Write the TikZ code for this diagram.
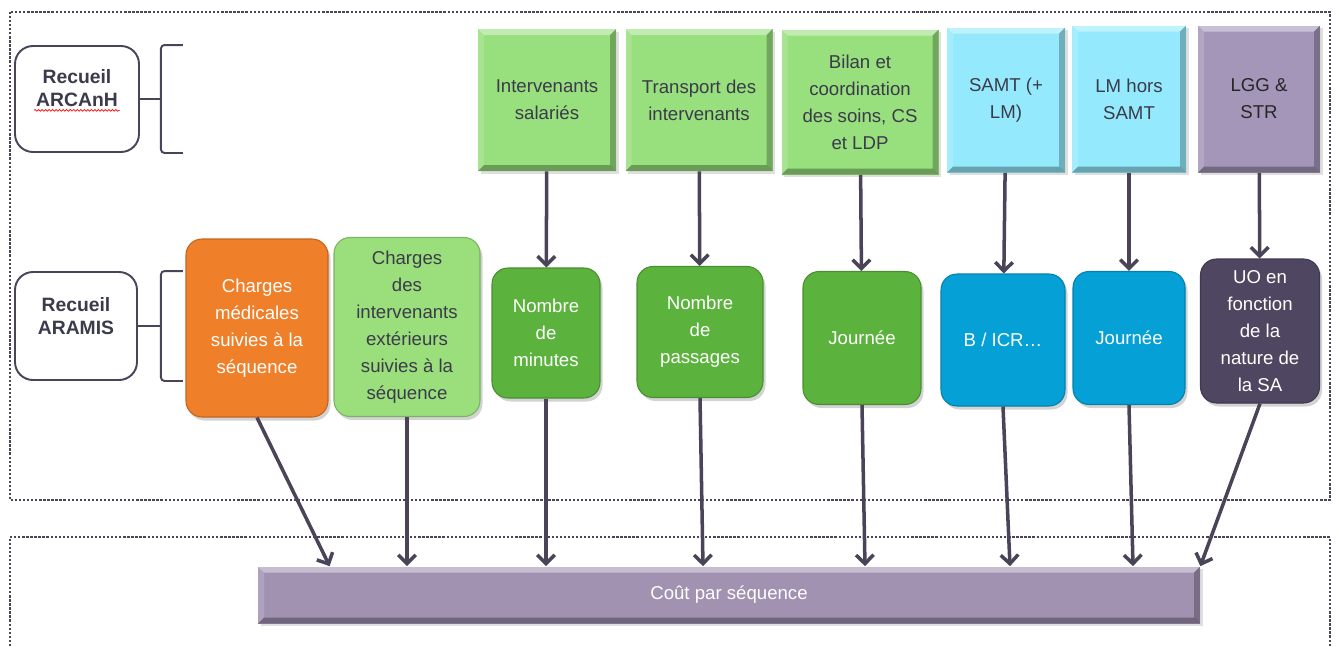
\documentclass[tikz,border=0pt]{standalone}
\usepackage{fontspec}
\setmainfont{Liberation Sans}
\usetikzlibrary{arrows.meta,shadows,decorations.pathmorphing}
\definecolor{linkgrey}{HTML}{4B4459}
\definecolor{darktext}{HTML}{3B3B4B}
\definecolor{topgreen}{HTML}{98DF7D}
\definecolor{topcyan}{HTML}{94EAFC}
\definecolor{toppurple}{HTML}{A496B8}
\definecolor{seqorange}{HTML}{F07F2A}
\definecolor{lightgreen}{HTML}{9ADF7C}
\definecolor{midgreen}{HTML}{5BB23C}
\definecolor{midblue}{HTML}{04A0D6}
\definecolor{darkpurple}{HTML}{4F4761}
\definecolor{barpurple}{HTML}{A192B2}
\tikzset{
  boxsize/.style 2 args={minimum width=#1*0.02cm,minimum height=#2*0.02cm},
  txt/.style={font=\fontsize{10.6}{15.4}\selectfont,align=center,inner sep=0pt},
  bevel/.style={path picture={
    \fill[white,opacity=.4] (path picture bounding box.north west) -- (path picture bounding box.north east)
      -- ([shift={(-.12cm,-.12cm)}]path picture bounding box.north east) -- ([shift={(.12cm,-.12cm)}]path picture bounding box.north west) -- cycle;
    \fill[white,opacity=.15] (path picture bounding box.north west) -- (path picture bounding box.south west)
      -- ([shift={(.12cm,.12cm)}]path picture bounding box.south west) -- ([shift={(.12cm,-.12cm)}]path picture bounding box.north west) -- cycle;
    \fill[black,opacity=.25] (path picture bounding box.north east) -- (path picture bounding box.south east)
      -- ([shift={(-.12cm,.12cm)}]path picture bounding box.south east) -- ([shift={(-.12cm,-.12cm)}]path picture bounding box.north east) -- cycle;
    \fill[black,opacity=.3] (path picture bounding box.south west) -- (path picture bounding box.south east)
      -- ([shift={(-.12cm,.12cm)}]path picture bounding box.south east) -- ([shift={(.12cm,.12cm)}]path picture bounding box.south west) -- cycle;
  }},
  topbox/.style={txt,bevel,fill=#1,text=darktext,drop shadow={opacity=.25,shadow xshift=.05cm,shadow yshift=-.05cm}},
  midbox/.style={txt,fill=#1,draw=#1!80!black,line width=.6pt,rounded corners=.32cm,text=white,
    drop shadow={opacity=.35,shadow xshift=.05cm,shadow yshift=-.07cm}},
  srcbox/.style={draw=linkgrey,line width=1.1pt,rounded corners=.36cm,fill=white},
  srctext/.style={font=\fontsize{11}{13}\selectfont\bfseries,align=center,text=darktext,inner sep=0pt},
  bracket/.style={draw=linkgrey,line width=1.1pt,rounded corners=2pt},
  link/.style={draw=linkgrey,line width=2pt,-{Straight Barb[length=5pt,width=10pt]}},
  frame/.style={draw=linkgrey,line width=1.5pt,dash pattern=on 1.3pt off 1pt},
  spell/.style={draw=red,line width=.4pt,decorate,decoration={snake,segment length=2pt,amplitude=.5pt}}
}
\begin{document}
\begin{tikzpicture}[x=0.02cm,y=-0.02cm]
  \useasboundingbox (0,0) rectangle (1339,646);
  \draw[frame] (10,12) rectangle (1330,500);
  \draw[frame] (10,646) -- (10,537) -- (1330,537) -- (1330,646);

  \node[srcbox,boxsize={124}{106}] (rA) at (77,99) {};
  \node[srctext] (rAtxt) at (77,88) {Recueil\\ARCAnH};
  \draw[spell] ([shift={(-.86cm,-.07cm)}]rAtxt.south) -- ([shift={(.86cm,-.07cm)}]rAtxt.south);
  \node[srcbox,boxsize={122}{108}] (rB) at (76,326) {};
  \node[srctext] (rBtxt) at (76,316) {Recueil\\ARAMIS};
  \draw[bracket] ([xshift=.86cm]rA.north east) -| ([xshift=.42cm]rA.east) |- ([xshift=.86cm]rA.south east);
  \draw[bracket] (rA.east) -- ([xshift=.42cm]rA.east);
  \draw[bracket] ([xshift=.9cm]rB.north east) -| ([xshift=.46cm]rB.east) |- ([xshift=.9cm]rB.south east);
  \draw[bracket] (rB.east) -- ([xshift=.46cm]rB.east);

  \node[topbox=topgreen,boxsize={138}{142}] (t1) at (547,100) {Intervenants\\salariés};
  \node[topbox=topgreen,boxsize={147}{142}] (t2) at (699,100) {Transport des\\intervenants};
  \node[topbox=topgreen,boxsize={157}{145}] (t3) at (860,102) {Bilan et\\coordination\\des soins, CS\\et LDP};
  \node[topbox=topcyan,boxsize={118}{145}] (t4) at (1006,100) {SAMT (+\\LM)};
  \node[topbox=topcyan,boxsize={114}{147}] (t5) at (1129,99) {LM hors\\SAMT};
  \node[topbox=toppurple,boxsize={122}{147},text=black!85] (t6) at (1259,99) {LGG \&\\STR};

  \node[midbox=seqorange,boxsize={142}{178}] (m1) at (257,328) {Charges\\médicales\\suivies à la\\séquence};
  \node[midbox=lightgreen,boxsize={146}{179},text=darktext] (m2) at (407,327) {Charges\\des\\intervenants\\extérieurs\\suivies à la\\séquence};
  \node[midbox=midgreen,boxsize={108}{130}] (m3) at (546,333) {Nombre\\de\\minutes};
  \node[midbox=midgreen,boxsize={126}{131}] (m4) at (700,332) {Nombre\\de\\passages};
  \node[midbox=midgreen,boxsize={118}{133}] (m5) at (862,338) {Journée};
  \node[midbox=midblue,boxsize={124}{132}] (m6) at (1003,340) {B / ICR…};
  \node[midbox=midblue,boxsize={112}{133}] (m7) at (1129,338) {Journée};
  \node[midbox=darkpurple,boxsize={119}{144}] (m8) at (1260,331) {UO en\\fonction\\de la\\nature de\\la SA};

  \node[topbox=barpurple,boxsize={942}{57},text=white] (bar) at (729,595) {Coût par séquence};
  \coordinate (in1) at ([xshift=1.44cm]bar.north west);

  \draw[link] (t1) -- (m3);
  \draw[link] (t2) -- (m4);
  \draw[link] (t3) -- (m5);
  \draw[link] (t4) -- (m6);
  \draw[link] (t5) -- (m7);
  \draw[link] (t6) -- (m8);

  \draw[link] (m1.south) -- (in1);
  \draw[link] (m2.south) -- (m2.south |- bar.north);
  \draw[link] (m3.south) -- (m3.south |- bar.north);
  \draw[link] (m4.south) -- ([xshift=.06cm]m4.south |- bar.north);
  \draw[link] (m5.south) -- ([xshift=.06cm]m5.south |- bar.north);
  \draw[link] (m6.south) -- ([xshift=.14cm]m6.south |- bar.north);
  \draw[link] (m7.south) -- ([xshift=.08cm]m7.south |- bar.north);
  \draw[link] (m8.south) -- (bar.north east);
\end{tikzpicture}
\end{document}
